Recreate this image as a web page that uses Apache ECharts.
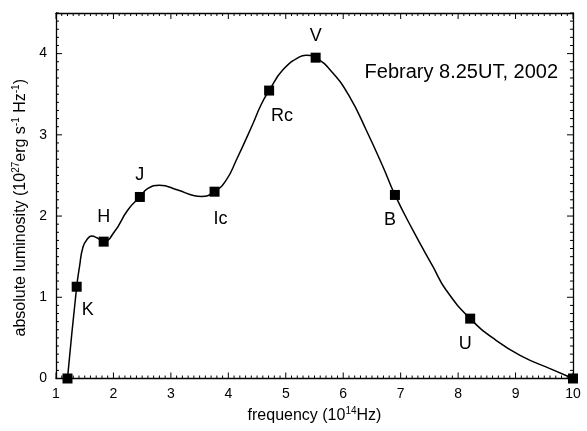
<!DOCTYPE html>
<html>
<head>
<meta charset="utf-8">
<script src="https://cdn.jsdelivr.net/npm/echarts@6/dist/echarts.min.js"></script>
<style>
  html, body { margin: 0; padding: 0; background: #fff; }
  #chart { width: 587px; height: 431px; }
</style>
</head>
<body>
<div id="chart"></div>
<script>
// measured photometric points (frequency in 1e14 Hz, luminosity in 1e27 erg/s/Hz)
const bandNames = ['', 'K', 'H', 'J', 'Ic', 'Rc', 'V', 'B', 'U', ''];
const bandFreq = [1.20, 1.36, 1.83, 2.46, 3.76, 4.71, 5.52, 6.90, 8.21, 10.0];
const bandLum = [0, 1.13, 1.685, 2.235, 2.30, 3.545, 3.95, 2.26, 0.737, 0];

// fitted curve
const curveFreq = [1.20, 1.36, 1.41, 1.47, 1.55, 1.62, 1.72, 1.83, 2.02, 2.25, 2.46, 2.60, 2.80, 3.12,
  3.41, 3.53, 3.76, 3.96, 4.14, 4.43, 4.57, 4.71, 4.95, 5.24, 5.35, 5.52, 5.82, 6.11, 6.40, 6.69,
  6.90, 7.21, 7.56, 7.79, 8.21, 8.66, 9.12, 9.59, 10.0];
const curveLum = [0, 1.13, 1.38, 1.62, 1.72, 1.755, 1.73, 1.685, 1.81, 2.075, 2.235, 2.34, 2.38, 2.32,
  2.25, 2.24, 2.30, 2.44, 2.69, 3.14, 3.37, 3.545, 3.80, 3.96, 3.98, 3.95, 3.76, 3.47, 3.06, 2.61,
  2.26, 1.83, 1.38, 1.09, 0.737, 0.47, 0.27, 0.125, 0];

const xTicks = [1, 2, 3, 4, 5, 6, 7, 8, 9, 10];
const yTicks = [0, 1, 2, 3, 4];
const xRange = [1, 10];
const yRange = [0, 4.5];

// where each band label sits relative to its marker
const labelOffsets = [[0, 0], [11, 23], [0, -25], [0, -22], [6, 27], [13, 25], [0, -22], [-5, 25], [-5, 25], [0, 0]];

// frame ticks every 0.1 on all four sides (inward, like the original plot)
const frameTicks = [];
for (let i = xRange[0] * 10; i <= xRange[1] * 10; i++) frameTicks.push([i / 10, 0]);
for (let i = yRange[0] * 10; i <= yRange[1] * 10; i++) frameTicks.push([i / 10, 1]);

const font = 'Liberation Sans, Arial, sans-serif';
const chart = echarts.init(document.getElementById('chart'));

function frame(extra) {
  return Object.assign({
    axisLine: { show: true, onZero: false, lineStyle: { color: '#000', width: 1.3 } },
    axisTick: { show: false },
    splitLine: { show: false }
  }, extra);
}

function renderTick(params, api) {
  const v = api.value(0);
  const isY = api.value(1) === 1;
  const major = Math.abs(v - Math.round(v)) < 1e-6;
  const len = major ? 6 : 3;
  const style = { stroke: '#000', lineWidth: 1 };
  let a, b;
  if (isY) {
    a = api.coord([xRange[0], v]);
    b = api.coord([xRange[1], v]);
    return {
      type: 'group',
      children: [
        { type: 'line', shape: { x1: a[0], y1: a[1], x2: a[0] + len, y2: a[1] }, style },
        { type: 'line', shape: { x1: b[0], y1: b[1], x2: b[0] - len, y2: b[1] }, style }
      ]
    };
  }
  a = api.coord([v, yRange[0]]);
  b = api.coord([v, yRange[1]]);
  return {
    type: 'group',
    children: [
      { type: 'line', shape: { x1: a[0], y1: a[1], x2: a[0], y2: a[1] - len }, style },
      { type: 'line', shape: { x1: b[0], y1: b[1], x2: b[0], y2: b[1] + len }, style }
    ]
  };
}

const supStyle = { fontSize: 10, verticalAlign: 'top', padding: [0, 0, 9, 0], fontFamily: font, color: '#000' };

const option = {
  animation: false,
  backgroundColor: '#fff',
  grid: { left: 56, right: 14, top: 13, bottom: 52.5 },
  xAxis: [
    frame({
      type: 'value', min: xRange[0], max: xRange[1], interval: 1, position: 'bottom',
      name: 'frequency (10{sup|14}Hz)', nameLocation: 'middle', nameGap: 22,
      nameTextStyle: { color: '#000', fontFamily: font, fontSize: 16, rich: { sup: supStyle } },
      axisLabel: {
        color: '#000', fontFamily: font, fontSize: 14, margin: 9,
        formatter: v => xTicks.includes(v) ? String(v) : ''
      }
    }),
    frame({
      type: 'value', min: xRange[0], max: xRange[1], interval: 1, position: 'top',
      axisLabel: { show: false }
    })
  ],
  yAxis: [
    frame({
      type: 'value', min: yRange[0], max: yRange[1], interval: 1, position: 'left',
      name: 'absolute luminosity (10{sup|27}erg s{sup|-1} Hz{sup|-1})',
      nameLocation: 'middle', nameGap: 25, nameRotate: 90,
      nameTextStyle: {
        color: '#000', fontFamily: font, fontSize: 16, padding: [0, 24, 0, 0],
        rich: { sup: supStyle }
      },
      axisLabel: {
        color: '#000', fontFamily: font, fontSize: 14, margin: 9,
        showMaxLabel: false,
        formatter: v => yTicks.includes(v) ? String(v) : ''
      }
    }),
    frame({
      type: 'value', min: yRange[0], max: yRange[1], interval: 1, position: 'right',
      axisLabel: { show: false }
    })
  ],
  graphic: [{
    type: 'text', right: 29, top: 62,
    style: { text: 'Febrary 8.25UT, 2002', fontFamily: font, fontSize: 20, fill: '#000' }
  }],
  series: [
    {
      type: 'custom',
      renderItem: renderTick,
      data: frameTicks,
      silent: true,
      z: 1
    },
    {
      type: 'line',
      data: curveFreq.map((f, i) => [f, curveLum[i]]),
      smooth: 0.5,
      showSymbol: false,
      lineStyle: { color: '#000', width: 1.5 },
      z: 2
    },
    {
      type: 'scatter',
      symbol: 'rect',
      symbolSize: 10,
      itemStyle: { color: '#000', opacity: 1 },
      data: bandFreq.map((f, i) => ({
        value: [f, bandLum[i]],
        label: {
          show: bandNames[i] !== '',
          formatter: bandNames[i],
          position: 'inside',
          offset: labelOffsets[i],
          color: '#000',
          fontFamily: font,
          fontSize: 18
        }
      })),
      z: 3
    }
  ]
};

chart.setOption(option);
</script>
</body>
</html>
